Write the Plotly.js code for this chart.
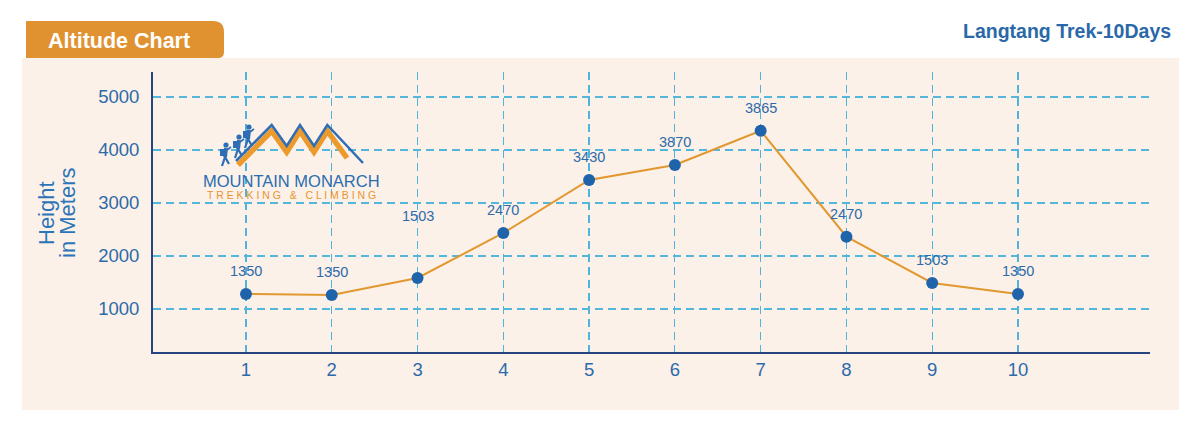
<!DOCTYPE html>
<html>
<head>
<meta charset="utf-8">
<script src="https://cdn.plot.ly/plotly-3.0.1.min.js"></script>
<style>html,body{margin:0;padding:0;background:#fff;}#chart{width:1201px;height:433px;}</style>
</head>
<body>
<div id="chart"></div>
<script>
// ---- data ----
const days = [1, 2, 3, 4, 5, 6, 7, 8, 9, 10];
const heights = [1283, 1264, 1585, 2434, 3434, 3717, 4364, 2364, 1491, 1283];
const heightLabels = ["1350", "1350", "1503", "2470", "3430", "3870", "3865", "2470", "1503", "1350"];
const yTicks = [1000, 2000, 3000, 4000, 5000];
const chartTitle = "Altitude Chart";
const trekTitle = "Langtang Trek-10Days";
const yTitleLines = ["Height", "in Meters"];

// ---- layout helpers (pixel -> paper) ----
const L = 153, R = 1150, T = 72, B = 352;
const W = 1201, H = 433;
const px = x => (x - L) / (R - L);
const py = y => (B - y) / (B - T);
const P = (x, y) => px(x).toFixed(5) + ',' + py(y).toFixed(5);
const pathOf = pts => 'M' + pts.map(p => P(p[0], p[1])).join(' L');

const FONT = 'Liberation Sans, Arial, Helvetica, sans-serif';
const BLUE = '#2d6aa8';
const LOGO_BLUE = '#2f6eb5';

const trace = {
  x: days, y: heights, type: 'scatter', mode: 'lines+markers',
  line: {color: '#e1982f', width: 2},
  marker: {color: '#1f64ab', size: 12},
  hoverinfo: 'x+y', showlegend: false
};

const lift = days.map((d, i) => i === 2 ? 62 : 23);
const annotations = days.map((d, i) => ({
  x: d, y: heights[i], xref: 'x', yref: 'y', text: heightLabels[i],
  showarrow: false, yshift: lift[i], yanchor: 'middle',
  font: {family: FONT, size: 14.5, color: '#2e6aa8'}
}));

annotations.push({
  xref: 'paper', yref: 'paper', x: px(119), y: py(41), text: '<b>' + chartTitle + '</b>',
  showarrow: false, xanchor: 'center', yanchor: 'middle',
  font: {family: FONT, size: 21.5, color: '#ffffff'}
});
annotations.push({
  xref: 'paper', yref: 'paper', x: px(1173), y: py(31), text: '<b>' + trekTitle + '</b>',
  showarrow: false, xanchor: 'right', yanchor: 'middle',
  font: {family: FONT, size: 19.5, color: '#2a68a8'}
});
const yTitleX = [46, 67];
yTitleLines.forEach((t, i) => annotations.push({
  xref: 'paper', yref: 'paper', x: px(yTitleX[i]), y: py(213), text: t,
  showarrow: false, textangle: -90, xanchor: 'center', yanchor: 'middle',
  font: {family: FONT, size: 22, color: '#2b74b8'}
}));
// logo text
annotations.push({
  xref: 'paper', yref: 'paper', x: px(291), y: py(181), text: 'MOUNTAIN MONARCH',
  showarrow: false, xanchor: 'center', yanchor: 'middle',
  font: {family: FONT, size: 16.5, color: '#2a6db0'}
});
annotations.push({
  xref: 'paper', yref: 'paper', x: px(291), y: py(195), text: 'T R E K K I N G &nbsp; & &nbsp; C L I M B I N G',
  showarrow: false, xanchor: 'center', yanchor: 'middle',
  font: {family: FONT, size: 10.5, color: '#e8952f'}
});

const shapes = [];
// cream panel
shapes.push({type: 'rect', xref: 'paper', yref: 'paper', x0: px(22), x1: px(1179), y0: py(410), y1: py(58),
  fillcolor: '#fbf1e8', line: {width: 0}, layer: 'below'});
// title tab
shapes.push({type: 'path', xref: 'paper', yref: 'paper', layer: 'below',
  path: 'M' + P(26, 58) + ' L' + P(26, 21) + ' L' + P(213, 21) + ' Q' + P(224, 21) + ' ' + P(224, 32) +
        ' L' + P(224, 52) + ' Q' + P(224, 58) + ' ' + P(218, 58) + ' Z',
  fillcolor: '#e09230', line: {width: 0}});
// logo mountains
shapes.push({type: 'path', xref: 'paper', yref: 'paper', layer: 'above',
  path: pathOf([[238, 165], [271.7, 131], [286.7, 152], [300, 131], [314, 152], [327.3, 131], [347, 158]]),
  line: {color: '#ec9a2c', width: 5.5}});
shapes.push({type: 'path', xref: 'paper', yref: 'paper', layer: 'above',
  path: pathOf([[236, 161], [271.7, 125], [286.7, 146], [300, 125], [314, 146], [327.3, 125], [363, 163]]),
  line: {color: LOGO_BLUE, width: 2.5}});
// climbers
const climbers = [[226, 145], [239, 137], [249, 127]];
climbers.forEach(c => {
  const [hx, hy] = c;
  shapes.push({type: 'circle', xref: 'paper', yref: 'paper', layer: 'above',
    x0: px(hx - 2.6), x1: px(hx + 2.6), y0: py(hy + 2.6), y1: py(hy - 2.6),
    fillcolor: LOGO_BLUE, line: {width: 0}});
  shapes.push({type: 'rect', xref: 'paper', yref: 'paper', layer: 'above',
    x0: px(hx - 6), x1: px(hx - 2), y0: py(hy + 11), y1: py(hy + 4),
    fillcolor: LOGO_BLUE, line: {width: 0}});
  shapes.push({type: 'path', xref: 'paper', yref: 'paper', layer: 'above',
    path: pathOf([[hx, hy + 3], [hx - 1, hy + 12]]), line: {color: LOGO_BLUE, width: 4}});
  shapes.push({type: 'path', xref: 'paper', yref: 'paper', layer: 'above',
    path: pathOf([[hx - 4, hy + 21], [hx - 1, hy + 12], [hx + 3, hy + 19]]), line: {color: LOGO_BLUE, width: 2.2}});
  shapes.push({type: 'path', xref: 'paper', yref: 'paper', layer: 'above',
    path: pathOf([[hx + 1, hy + 5], [hx + 5, hy + 2]]), line: {color: LOGO_BLUE, width: 1.6}});
});

const layout = {
  width: W, height: H,
  margin: {l: L, r: W - R, t: T, b: H - B, pad: 0},
  paper_bgcolor: '#ffffff', plot_bgcolor: 'rgba(0,0,0,0)',
  showlegend: false,
  xaxis: {
    range: [-0.084, 11.539], tickvals: days, ticktext: days.map(String),
    showgrid: true, gridcolor: '#4fb3dc', gridwidth: 1.2, griddash: '8px,5px',
    zeroline: false, showline: true, linecolor: '#26447f', linewidth: 2,
    ticks: '', tickfont: {family: FONT, size: 18.5, color: BLUE}, fixedrange: true
  },
  yaxis: {
    range: [188.7, 5471.7], tickvals: yTicks, ticktext: yTicks.map(String),
    showgrid: true, gridcolor: '#55b6dc', gridwidth: 1.5, griddash: '8px,5px',
    zeroline: false, showline: true, linecolor: '#26447f', linewidth: 2,
    ticks: '', ticklabelstandoff: 8, tickfont: {family: FONT, size: 18.5, color: BLUE}, fixedrange: true
  },
  shapes: shapes,
  annotations: annotations
};

Plotly.newPlot('chart', [trace], layout, {displayModeBar: false, staticPlot: true});
</script>
</body>
</html>
